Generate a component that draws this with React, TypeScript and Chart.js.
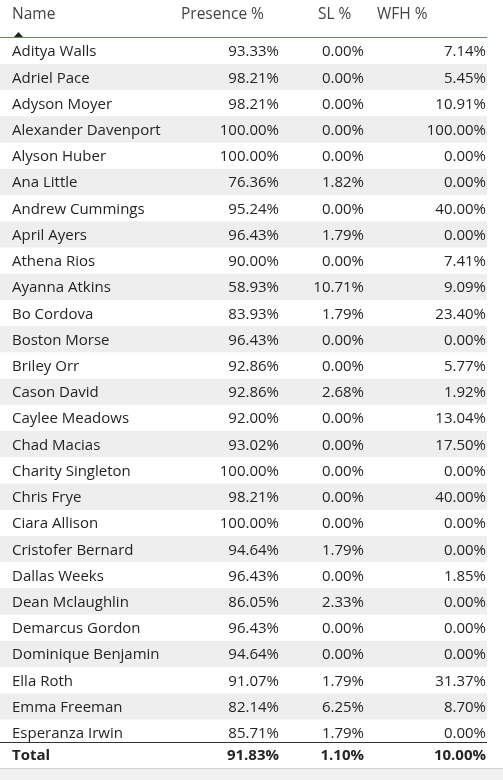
import React, { useRef, useEffect } from "react";
import { Chart, registerables } from "chart.js";

Chart.register(...registerables);

const names = [
  "Aditya Walls", "Adriel Pace", "Adyson Moyer", "Alexander Davenport", "Alyson Huber",
  "Ana Little", "Andrew Cummings", "April Ayers", "Athena Rios", "Ayanna Atkins",
  "Bo Cordova", "Boston Morse", "Briley Orr", "Cason David", "Caylee Meadows",
  "Chad Macias", "Charity Singleton", "Chris Frye", "Ciara Allison", "Cristofer Bernard",
  "Dallas Weeks", "Dean Mclaughlin", "Demarcus Gordon", "Dominique Benjamin", "Ella Roth",
  "Emma Freeman", "Esperanza Irwin",
];
const presence = [
  93.33, 98.21, 98.21, 100, 100, 76.36, 95.24, 96.43, 90, 58.93, 83.93, 96.43, 92.86, 92.86,
  92, 93.02, 100, 98.21, 100, 94.64, 96.43, 86.05, 96.43, 94.64, 91.07, 82.14, 85.71,
];
const sl = [
  0, 0, 0, 0, 0, 1.82, 0, 1.79, 0, 10.71, 1.79, 0, 0, 2.68, 0, 0, 0, 0, 0, 1.79, 0, 2.33, 0,
  0, 1.79, 6.25, 1.79,
];
const wfh = [
  7.14, 5.45, 10.91, 100, 0, 0, 40, 0, 7.41, 9.09, 23.4, 0, 5.77, 1.92, 13.04, 17.5, 0, 40, 0,
  0, 1.85, 0, 0, 0, 31.37, 8.7, 0,
];
const headers = ["Name", "Presence %", "SL %", "WFH %"];
const totals = [91.83, 1.1, 10.0];

const FONT = '"Open Sans", "Noto Sans", sans-serif';
const fmt = (v: number) => v.toFixed(2) + "%";

const tablePlugin = {
  id: "tableText",
  afterDraw(chart: Chart) {
    const { ctx, chartArea } = chart;
    const y = chart.scales.y;
    const colR = [0, 279, 364, 486];
    ctx.save();
    ctx.textBaseline = "middle";
    // header
    ctx.font = `15.5px ${FONT}`;
    ctx.fillStyle = "#444";
    ctx.textAlign = "left";
    const hx = [12, 181, 318, 377];
    headers.forEach((h, i) => ctx.fillText(h, hx[i], 15));
    ctx.beginPath();
    ctx.moveTo(14, 37);
    ctx.lineTo(18.5, 32);
    ctx.lineTo(23, 37);
    ctx.closePath();
    ctx.fillStyle = "#222";
    ctx.fill();
    ctx.strokeStyle = "#5b7fb5";
    ctx.lineWidth = 1;
    ctx.beginPath();
    ctx.moveTo(0, chartArea.top - 0.5);
    ctx.lineTo(chartArea.right, chartArea.top - 0.5);
    ctx.stroke();
    // body
    ctx.font = `15px ${FONT}`;
    ctx.fillStyle = "#252423";
    names.forEach((n, i) => {
      const py = y.getPixelForValue(i) + 1;
      ctx.textAlign = "left";
      ctx.fillText(n, 12, py);
      ctx.textAlign = "right";
      ctx.fillText(fmt(presence[i]), colR[1], py);
      ctx.fillText(fmt(sl[i]), colR[2], py);
      ctx.fillText(fmt(wfh[i]), colR[3], py);
    });
    // total row
    ctx.fillStyle = "#ffffff";
    ctx.fillRect(0, chartArea.bottom - 3, chartArea.right, 26);
    ctx.strokeStyle = "#333";
    ctx.beginPath();
    ctx.moveTo(0, chartArea.bottom - 3.5);
    ctx.lineTo(chartArea.right, chartArea.bottom - 3.5);
    ctx.stroke();
    ctx.font = `bold 15px ${FONT}`;
    ctx.fillStyle = "#252423";
    const ty = chartArea.bottom + 10;
    ctx.textAlign = "left";
    ctx.fillText("Total", 12, ty);
    ctx.textAlign = "right";
    totals.forEach((t, i) => ctx.fillText(fmt(t), colR[i + 1], ty));
    // bottom band
    ctx.fillStyle = "#f0f0f0";
    ctx.fillRect(0, 768, chart.width, 12);
    ctx.strokeStyle = "#d0d0d0";
    ctx.beginPath();
    ctx.moveTo(0, 768.5);
    ctx.lineTo(chart.width, 768.5);
    ctx.stroke();
    ctx.restore();
  },
};

const App: React.FC = () => {
  const ref = useRef<HTMLCanvasElement | null>(null);

  useEffect(() => {
    document.body.style.margin = "0";
    if (!ref.current) return;
    const chart = new Chart(ref.current, {
      type: "bar",
      data: {
        labels: names,
        datasets: [
          {
            data: names.map(() => 1),
            backgroundColor: names.map((_, i) => (i % 2 ? "#eeeeee" : "#ffffff")),
            barPercentage: 1,
            categoryPercentage: 1,
          },
        ],
      },
      options: {
        indexAxis: "y",
        animation: false,
        responsive: true,
        maintainAspectRatio: false,
        layout: { padding: { top: 38, bottom: 34, left: 0, right: 16 } },
        plugins: { legend: { display: false }, tooltip: { enabled: false } },
        scales: {
          x: { display: false, min: 0, max: 1 },
          y: { display: false },
        },
      },
      plugins: [tablePlugin],
    });
    return () => chart.destroy();
  }, []);

  return (
    <div style={{ width: 503, height: 780, position: "relative", background: "#fff" }}>
      <canvas ref={ref} />
    </div>
  );
};

export default App;
